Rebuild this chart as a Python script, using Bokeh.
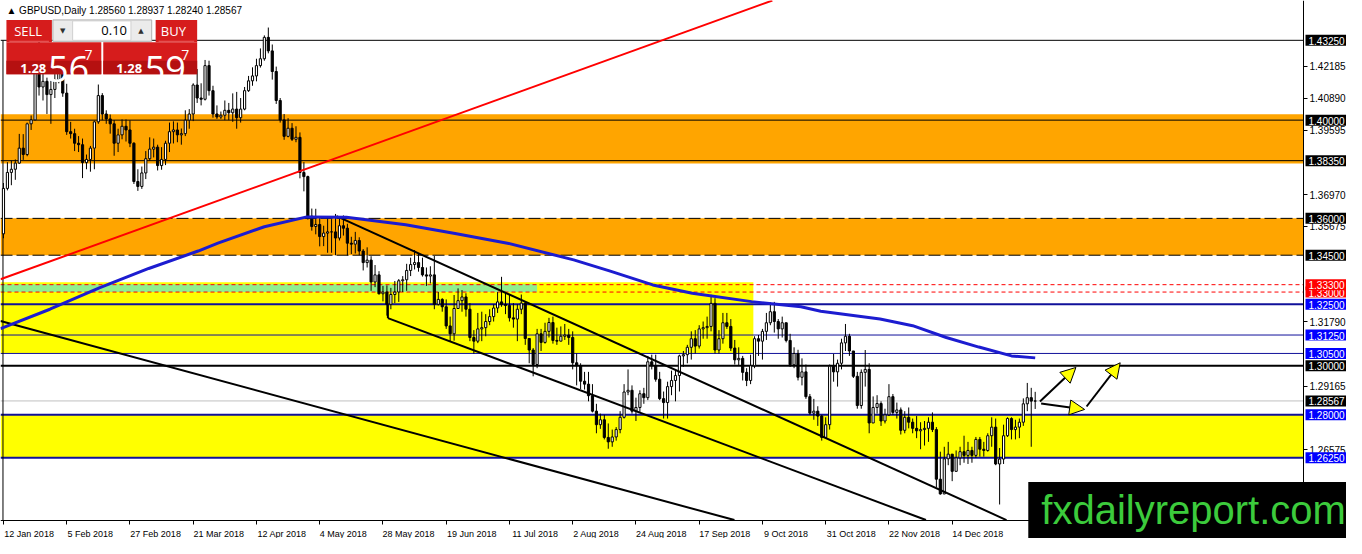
from bokeh.plotting import figure
from bokeh.models import FixedTicker, PrintfTickFormatter, Label, Arrow, NormalHead, Range1d
from bokeh.embed import file_html
from bokeh.resources import INLINE
from bokeh.core.properties import value

# ---------------- data (GBPUSD daily, 12 Jan 2018 .. 16 Jan 2019) ----------------
first_open = 1.3537
close = [
    1.3722, 1.3787, 1.3800, 1.3825, 1.3886, 1.3860, 1.3985, 1.4001, 1.4240, 1.4135,
    1.4158, 1.4104, 1.4125, 1.4165, 1.4270, 1.4110, 1.3953, 1.3945, 1.3906, 1.3900,
    1.3827, 1.3840, 1.3886, 1.3993, 1.4100, 1.4025, 1.4005, 1.3985, 1.3906, 1.3940,
    1.3975, 1.3960, 1.3906, 1.3750, 1.3730, 1.3785, 1.3843, 1.3882, 1.3890, 1.3815,
    1.3840, 1.3906, 1.3953, 1.3960, 1.3940, 1.3945, 1.4000, 1.4025, 1.4143, 1.4090,
    1.4085, 1.4222, 1.4120, 1.4025, 1.4013, 1.4020, 1.4040, 1.4030, 1.4045, 1.4010,
    1.4045, 1.4120, 1.4160, 1.4180, 1.4222, 1.4250, 1.4337, 1.4282, 1.4198, 1.4080,
    1.4001, 1.3934, 1.3967, 1.3922, 1.3930, 1.3787, 1.3770, 1.3609, 1.3567, 1.3575,
    1.3526, 1.3540, 1.3545, 1.3545, 1.3520, 1.3570, 1.3560, 1.3499, 1.3495, 1.3510,
    1.3467, 1.3420, 1.3430, 1.3341, 1.3370, 1.3293, 1.3300, 1.3250, 1.3290, 1.3300,
    1.3346, 1.3350, 1.3388, 1.3412, 1.3420, 1.3400, 1.3370, 1.3365, 1.3370, 1.3250,
    1.3270, 1.3240, 1.3162, 1.3130, 1.3233, 1.3265, 1.3280, 1.3230, 1.3115, 1.3100,
    1.3150, 1.3155, 1.3180, 1.3200, 1.3235, 1.3260, 1.3250, 1.3245, 1.3195, 1.3190,
    1.3230, 1.3255, 1.3111, 1.3064, 1.3005, 1.3130, 1.3095, 1.3140, 1.3176, 1.3103,
    1.3100, 1.3120, 1.3125, 1.3115, 1.3012, 1.3000, 1.2937, 1.2925, 1.2878, 1.2815,
    1.2760, 1.2780, 1.2708, 1.2690, 1.2710, 1.2740, 1.2790, 1.2893, 1.2900, 1.2815,
    1.2830, 1.2886, 1.2870, 1.3016, 1.3000, 1.2945, 1.2866, 1.2850, 1.2915, 1.2940,
    1.2960, 1.3040, 1.3045, 1.3075, 1.3110, 1.3080, 1.3150, 1.3155, 1.3160, 1.3254,
    1.3064, 1.3110, 1.3175, 1.3160, 1.3072, 1.3024, 1.3030, 1.2973, 1.2940, 1.3000,
    1.3110, 1.3100, 1.3140, 1.3175, 1.3220, 1.3180, 1.3150, 1.3175, 1.3103, 1.3004,
    1.3050, 1.2953, 1.2975, 1.2874, 1.2807, 1.2815, 1.2795, 1.2708, 1.2760, 1.2998,
    1.2975, 1.3010, 1.3093, 1.3120, 1.3060, 1.2957, 1.2838, 1.2973, 1.2985, 1.2767,
    1.2830, 1.2846, 1.2775, 1.2800, 1.2874, 1.2810, 1.2820, 1.2737, 1.2790, 1.2770,
    1.2745, 1.2735, 1.2740, 1.2745, 1.2770, 1.2740, 1.2538, 1.2478, 1.2621, 1.2640,
    1.2570, 1.2625, 1.2650, 1.2635, 1.2655, 1.2635, 1.2700, 1.2660, 1.2655, 1.2715,
    1.2750, 1.2600, 1.2620, 1.2715, 1.2785, 1.2740, 1.2750, 1.2770, 1.2845, 1.2870,
    1.2856, 1.28567]
high = [
    1.3744, 1.3829, 1.3835, 1.3840, 1.3944, 1.3943, 1.3990, 1.4019, 1.4245, 1.4346,
    1.4210, 1.4173, 1.4160, 1.4240, 1.4305, 1.4281, 1.4148, 1.3993, 1.3965, 1.3935,
    1.3925, 1.3860, 1.3895, 1.3998, 1.4145, 1.4110, 1.4040, 1.4023, 1.4000, 1.3965,
    1.4003, 1.4003, 1.3999, 1.3910, 1.3800, 1.3811, 1.3874, 1.3930, 1.3925, 1.3900,
    1.3890, 1.3916, 1.3990, 1.3995, 1.3990, 1.3966, 1.4040, 1.4045, 1.4150, 1.4208,
    1.4150, 1.4245, 1.4242, 1.4140, 1.4060, 1.4035, 1.4080, 1.4070, 1.4109, 1.4115,
    1.4090, 1.4135, 1.4180, 1.4215, 1.4250, 1.4292, 1.4345, 1.4377, 1.4308, 1.4218,
    1.4090, 1.4025, 1.4008, 1.3988, 1.3975, 1.3950, 1.3829, 1.3774, 1.3640, 1.3639,
    1.3603, 1.3570, 1.3603, 1.3597, 1.3618, 1.3605, 1.3612, 1.3578, 1.3525, 1.3545,
    1.3523, 1.3475, 1.3482, 1.3446, 1.3410, 1.3385, 1.3325, 1.3327, 1.3317, 1.3345,
    1.3353, 1.3365, 1.3415, 1.3440, 1.3471, 1.3455, 1.3440, 1.3400, 1.3405, 1.3447,
    1.3300, 1.3275, 1.3270, 1.3200, 1.3288, 1.3315, 1.3308, 1.3295, 1.3255, 1.3145,
    1.3215, 1.3220, 1.3210, 1.3230, 1.3250, 1.3300, 1.3362, 1.3300, 1.3290, 1.3255,
    1.3250, 1.3290, 1.3260, 1.3110, 1.3072, 1.3150, 1.3150, 1.3175, 1.3195, 1.3200,
    1.3155, 1.3160, 1.3170, 1.3150, 1.3140, 1.3050, 1.3010, 1.2975, 1.2975, 1.2925,
    1.2845, 1.2805, 1.2800, 1.2765, 1.2740, 1.2750, 1.2815, 1.2925, 1.2985, 1.2920,
    1.2870, 1.2900, 1.2910, 1.3040, 1.3045, 1.3045, 1.2975, 1.2895, 1.2935, 1.2980,
    1.2985, 1.3045, 1.3060, 1.3085, 1.3140, 1.3145, 1.3165, 1.3180, 1.3200, 1.3289,
    1.3275, 1.3145, 1.3215, 1.3215, 1.3190, 1.3105, 1.3075, 1.3040, 1.2990, 1.3045,
    1.3120, 1.3125, 1.3150, 1.3215, 1.3258, 1.3260, 1.3190, 1.3200, 1.3175, 1.3130,
    1.3075, 1.3065, 1.3030, 1.3005, 1.2885, 1.2865, 1.2835, 1.2800, 1.2790, 1.3005,
    1.3048, 1.3025, 1.3110, 1.3170, 1.3130, 1.3060, 1.2975, 1.2985, 1.3064, 1.3010,
    1.2875, 1.2880, 1.2855, 1.2825, 1.2925, 1.2885, 1.2850, 1.2830, 1.2815, 1.2830,
    1.2785, 1.2795, 1.2770, 1.2775, 1.2790, 1.2810, 1.2750, 1.2650, 1.2670, 1.2690,
    1.2635, 1.2655, 1.2670, 1.2715, 1.2690, 1.2670, 1.2710, 1.2710, 1.2690, 1.2725,
    1.2790, 1.2785, 1.2665, 1.2760, 1.2790, 1.2790, 1.2780, 1.2785, 1.2867, 1.2930,
    1.2910, 1.28937]
low = [
    1.3519, 1.3714, 1.3735, 1.3757, 1.3823, 1.3838, 1.3853, 1.3960, 1.4000, 1.4100,
    1.4080, 1.4025, 1.3985, 1.4090, 1.4150, 1.4095, 1.3940, 1.3925, 1.3874, 1.3870,
    1.3764, 1.3800, 1.3790, 1.3800, 1.3985, 1.4000, 1.3985, 1.3945, 1.3855, 1.3870,
    1.3922, 1.3913, 1.3890, 1.3740, 1.3712, 1.3720, 1.3760, 1.3835, 1.3848, 1.3795,
    1.3798, 1.3817, 1.3870, 1.3905, 1.3910, 1.3900, 1.3935, 1.3965, 1.3996, 1.4070,
    1.4060, 1.4080, 1.4100, 1.4010, 1.4005, 1.4005, 1.4000, 1.4000, 1.3993, 1.3965,
    1.3990, 1.4040, 1.4115, 1.4140, 1.4158, 1.4214, 1.4242, 1.4272, 1.4165, 1.4066,
    1.3990, 1.3920, 1.3930, 1.3915, 1.3910, 1.3763, 1.3710, 1.3595, 1.3550, 1.3535,
    1.3486, 1.3487, 1.3460, 1.3460, 1.3450, 1.3510, 1.3530, 1.3449, 1.3455, 1.3457,
    1.3450, 1.3388, 1.3400, 1.3305, 1.3320, 1.3290, 1.3262, 1.3204, 1.3230, 1.3255,
    1.3260, 1.3300, 1.3305, 1.3365, 1.3392, 1.3383, 1.3363, 1.3325, 1.3335, 1.3230,
    1.3245, 1.3220, 1.3150, 1.3100, 1.3102, 1.3250, 1.3220, 1.3200, 1.3100, 1.3049,
    1.3092, 1.3100, 1.3120, 1.3165, 1.3180, 1.3215, 1.3240, 1.3210, 1.3180, 1.3155,
    1.3100, 1.3210, 1.3085, 1.3010, 1.2957, 1.2990, 1.3060, 1.3090, 1.3115, 1.3090,
    1.3085, 1.3100, 1.3105, 1.3085, 1.2985, 1.2920, 1.2905, 1.2903, 1.2855, 1.2810,
    1.2725, 1.2743, 1.2700, 1.2662, 1.2670, 1.2695, 1.2725, 1.2785, 1.2880, 1.2805,
    1.2775, 1.2812, 1.2845, 1.2860, 1.2985, 1.2935, 1.2860, 1.2785, 1.2785, 1.2880,
    1.2855, 1.2895, 1.2995, 1.3010, 1.3025, 1.3050, 1.3070, 1.3110, 1.3110, 1.3140,
    1.3050, 1.3050, 1.3090, 1.3150, 1.3060, 1.3005, 1.3000, 1.2940, 1.2917, 1.2925,
    1.2990, 1.3040, 1.3025, 1.3105, 1.3165, 1.3135, 1.3110, 1.3115, 1.3095, 1.2995,
    1.2990, 1.2940, 1.2920, 1.2865, 1.2800, 1.2780, 1.2755, 1.2695, 1.2705, 1.2740,
    1.2935, 1.2915, 1.2985, 1.3060, 1.3040, 1.2950, 1.2825, 1.2825, 1.2915, 1.2725,
    1.2770, 1.2805, 1.2755, 1.2765, 1.2795, 1.2800, 1.2785, 1.2720, 1.2725, 1.2745,
    1.2725, 1.2705, 1.2660, 1.2675, 1.2690, 1.2730, 1.2505, 1.2475, 1.2477, 1.2595,
    1.2530, 1.2570, 1.2595, 1.2605, 1.2600, 1.2605, 1.2625, 1.2630, 1.2630, 1.2650,
    1.2670, 1.2595, 1.2435, 1.2600, 1.2710, 1.2700, 1.2700, 1.2705, 1.2755, 1.2815,
    1.2670, 1.28240]

date_ticks = [0, 16, 32, 48, 64, 80, 96, 112, 128, 144, 160, 176, 192, 208, 224, 240]
date_labels = ["12 Jan 2018", "5 Feb 2018", "27 Feb 2018", "21 Mar 2018", "12 Apr 2018",
               "4 May 2018", "28 May 2018", "19 Jun 2018", "11 Jul 2018", "2 Aug 2018",
               "24 Aug 2018", "17 Sep 2018", "9 Oct 2018", "31 Oct 2018", "22 Nov 2018",
               "14 Dec 2018"]
price_ticks = [1.42185, 1.40890, 1.39595, 1.36970, 1.35675, 1.31790, 1.29165, 1.26575]

# horizontal levels: price, colour, width, dash
levels = [
    (1.43250, "black", 1, "solid"), (1.40000, "black", 1, "solid"), (1.38350, "black", 1, "solid"),
    (1.36000, "black", 1, "12 4"), (1.34500, "black", 1, "12 4"),
    (1.33300, "#FF0000", 1, "4 3"), (1.33000, "#FF0000", 1, "4 3"),
    (1.32500, "#10109A", 2, "solid"), (1.31250, "#10109A", 1, "solid"), (1.30500, "#10109A", 1, "solid"),
    (1.30000, "black", 2, "solid"), (1.28567, "#C0C0C0", 1, "solid"),
    (1.28000, "#10109A", 2, "solid"), (1.26250, "#10109A", 2, "solid")]
# price tags on the axis (drawn in this order)
tags = [(1.43250, "black"), (1.40000, "black"), (1.38350, "black"), (1.36000, "black"),
        (1.34500, "black"), (1.33000, "#FF0000"), (1.33300, "#FF0000"), (1.32500, "#0000FF"),
        (1.31250, "#0000FF"), (1.30500, "#0000FF"), (1.30000, "black"), (1.28567, "black"),
        (1.28000, "#0000FF"), (1.26250, "#0000FF")]

# moving average (bar index, price)
ma_bar = [-0.75, 11.75, 24.25, 36.75, 49.25, 54.25, 66, 76.75, 86.75, 101.75, 114.25, 127.5,
          144.25, 153.5, 164.25, 174.25, 189.25, 201.75, 206.75, 221.75, 230, 238.5, 246.75, 255, 261]
ma_val = [1.3151, 1.3230, 1.3317, 1.3396, 1.3467, 1.3499, 1.3566, 1.3606, 1.3605, 1.3574, 1.3538,
          1.3499, 1.3431, 1.3385, 1.3329, 1.3295, 1.3261, 1.3240, 1.3222, 1.3190, 1.3163, 1.3115,
          1.3076, 1.3040, 1.3032]

# zones: (top, bottom, last bar or None for full width, colour)
zones = [(1.4024, 1.3823, None, "#FFA500"), (1.3600, 1.3450, None, "#FFA500"),
         (1.3340, 1.3052, 189.7, "#FFFF00"), (1.3332, 1.3300, 135.0, "#90EE90"),
         (1.2800, 1.2625, None, "#FFFF00")]
# trend lines through two anchors: (bar0, price0, bar1, price1, colour, extend to x-axis)
trends = [(-0.75, 1.3352, 194.5, 1.4487, "#FF0000", False),
          (84.25, 1.3609, 250.0, 1.2399, "black", True),
          (97.25, 1.3194, 230.0, 1.2392, "black", True),
          (97.25, 1.3250, 97.25, 1.3194, "black", False),
          (-0.75, 1.3182, 183.0, 1.2380, "black", True)]
arrows = [(262.2, 1.2854, 271.3, 1.2993), (262.5, 1.2846, 273.5, 1.2822), (274.0, 1.2834, 282.5, 1.3012)]

# ---------------- geometry (reference pixel -> data helpers for decorations) ----------------


def RX(px):
    return (px - 3) / 4.0


def RY(py):
    return 1.4325 - (py - 41) / 2529.0


X_START, X_END = RX(0), RX(1362)
Y_BOT, Y_TOP = RY(554), RY(0)
X_AXIS = RX(1318.5)
Y_AXIS = RY(535)

p = figure(width=1346, height=538, x_range=Range1d(X_START, X_END), y_range=Range1d(Y_BOT, Y_TOP),
           output_backend="svg", toolbar_location=None, y_axis_location="right",
           min_border_left=0, min_border_top=0, min_border_right=0, min_border_bottom=0)
p.xgrid.visible = False
p.ygrid.visible = False
p.outline_line_color = None
p.background_fill_color = "white"
p.border_fill_color = "white"

yax = p.yaxis[0]
yax.fixed_location = X_AXIS
yax.bounds = (Y_AXIS, Y_TOP)
yax.ticker = FixedTicker(ticks=price_ticks)
yax.formatter = PrintfTickFormatter(format="%.5f")
yax.major_label_text_font = "Liberation Sans"
yax.major_label_text_font_size = "10px"
yax.major_label_text_color = "black"
yax.major_tick_out = 4
yax.major_tick_in = 0
yax.major_label_standoff = 2
yax.minor_tick_line_color = None
yax.axis_line_color = "black"

xax = p.xaxis[0]
xax.fixed_location = Y_AXIS
xax.bounds = (X_START, X_AXIS)
centers = [round(t + (2 + 4.3 * len(l) / 2.0) / 3.95, 2) for t, l in zip(date_ticks, date_labels)]
xax.ticker = FixedTicker(ticks=centers, minor_ticks=date_ticks)
xax.major_label_overrides = {c: l for c, l in zip(centers, date_labels)}
xax.major_tick_line_color = None
xax.minor_tick_line_color = "black"
xax.minor_tick_out = 4
xax.minor_tick_in = 0
xax.major_label_standoff = 3
xax.major_label_text_font = "Liberation Sans"
xax.major_label_text_font_size = "9px"
xax.major_label_text_color = "black"
xax.axis_line_color = "black"

# zones
for top, bot, last, col in zones:
    p.quad(left=X_START, right=(X_AXIS if last is None else last), top=top, bottom=bot,
           fill_color=col, line_color=None)

# horizontal levels
for price, col, w, dash in levels:
    p.segment(x0=X_START, y0=price, x1=X_AXIS, y1=price, line_color=col, line_width=w, line_dash=dash)

# left border
p.segment(x0=RX(2.5), y0=RY(41), x1=RX(2.5), y1=Y_AXIS, line_color="black", line_width=1)

# candles
n = min(len(close), len(high), len(low))
idx = list(range(n))
opens = [first_open] + close[:n - 1]
tops = [max(o, c) for o, c in zip(opens, close[:n])]
bots = [min(o, c) for o, c in zip(opens, close[:n])]
fills = ["white" if c >= o else "black" for o, c in zip(opens, close[:n])]
p.segment(x0=idx, y0=low[:n], x1=idx, y1=high[:n], line_color="black", line_width=1)
p.vbar(x=idx, width=0.55, top=tops, bottom=bots, fill_color=fills, line_color="black", line_width=1)

# trend lines (extended down to the time axis where the chart continues them)
for x0, y0, x1, y1, col, ext in trends:
    if ext:
        slope = (y1 - y0) / (x1 - x0)
        x1 = x0 + (Y_AXIS - y0) / slope
        y1 = Y_AXIS
    p.segment(x0=x0, y0=y0, x1=x1, y1=y1, line_color=col, line_width=2)

# moving average
p.line(ma_bar, ma_val, line_color="#1C1CD0", line_width=3)

# arrows
for x0, y0, x1, y1 in arrows:
    p.add_layout(Arrow(end=NormalHead(size=15, fill_color="#FFFF00", line_color="black", line_width=1),
                       x_start=x0, y_start=y0, x_end=x1, y_end=y1, line_color="black", line_width=2))

# ---------------- trading panel (top left) ----------------
red, red_dark = "#D61C1C", "#B51010"
p.quad(left=[RX(6), RX(157), RX(6), RX(104)], right=[RX(52), RX(199), RX(102), RX(199)],
       top=[RY(20), RY(20), RY(43), RY(43)], bottom=[RY(43), RY(43), RY(76), RY(76)],
       fill_color=red, line_color=None)
p.quad(left=[RX(6), RX(104)], right=[RX(102), RX(199)], top=[RY(62), RY(62)], bottom=[RY(76), RY(76)],
       fill_color=red_dark, line_color=None)
p.segment(x0=[RX(9), RX(160)], y0=[RY(42), RY(42)], x1=[RX(49), RX(196)], y1=[RY(42), RY(42)],
          line_color="#E86060", line_width=1)
p.quad(left=RX(53), right=RX(153), top=RY(20), bottom=RY(42), fill_color="#EBEBEB", line_color="#B0B0B0")
p.quad(left=RX(73), right=RX(132), top=RY(21), bottom=RY(41), fill_color="white", line_color="#D0D0D0")
p.text(x=[RX(63), RX(142)], y=[RY(31), RY(31)], text=["▼", "▲"], text_font=value("DejaVu Sans"),
       text_font_size=value("7px"), text_color="#303030", text_align="center", text_baseline="middle")
p.text(x=[RX(128)], y=[RY(31)], text=["0.10"], text_font=value("Open Sans"), text_font_size=value("13px"),
       text_color="black", text_align="right", text_baseline="middle")
p.text(x=[RX(28), RX(175)], y=[RY(31), RY(31)], text=["SELL", "BUY"], text_font=value("Open Sans"),
       text_font_size=value("13px"), text_color="white", text_align="center", text_baseline="middle")
p.text(x=[RX(20), RX(117)], y=[RY(70), RY(70)], text=["1.28", "1.28"], text_font=value("Open Sans"),
       text_font_size=value("13px"), text_font_style="bold", text_color="white",
       text_align="left", text_baseline="alphabetic")
p.text(x=[RX(48), RX(146)], y=[RY(71), RY(71)], text=["56", "59"], text_font=value("Open Sans"),
       text_font_size=value("36px"), text_color="white", text_align="left", text_baseline="alphabetic")
p.text(x=[RX(85), RX(183)], y=[RY(56), RY(56)], text=["7", "7"], text_font=value("Open Sans"),
       text_font_size=value("14px"), text_color="white", text_align="left", text_baseline="alphabetic")

# header text
p.text(x=[RX(6)], y=[RY(10)], text=["▲ GBPUSD,Daily  1.28560 1.28937 1.28240 1.28567"],
       text_font=value("Liberation Sans"), text_font_size=value("10px"), text_color="black",
       text_align="left", text_baseline="middle")

# ---------------- price tags on the axis ----------------
for price, col in tags:
    p.add_layout(Label(x=X_AXIS, y=price, x_offset=2, text="%.5f" % price, text_align="left",
                       text_baseline="middle", text_font="Liberation Sans", text_font_size="10px",
                       text_color="white", background_fill_color=col,
                       padding=dict(left=3, right=8, top=2, bottom=1)))

# ---------------- logo ----------------
p.add_layout(Label(x=RX(1040), y=RY(537), text="fxdailyreport.com", text_align="left",
                   text_baseline="alphabetic", text_font="Liberation Sans", text_font_size="40px",
                   text_color="#3CCB3C", background_fill_color="black",
                   padding=dict(left=13, right=40, top=6, bottom=30)))

open("out.html", "w").write(file_html(p, INLINE))
